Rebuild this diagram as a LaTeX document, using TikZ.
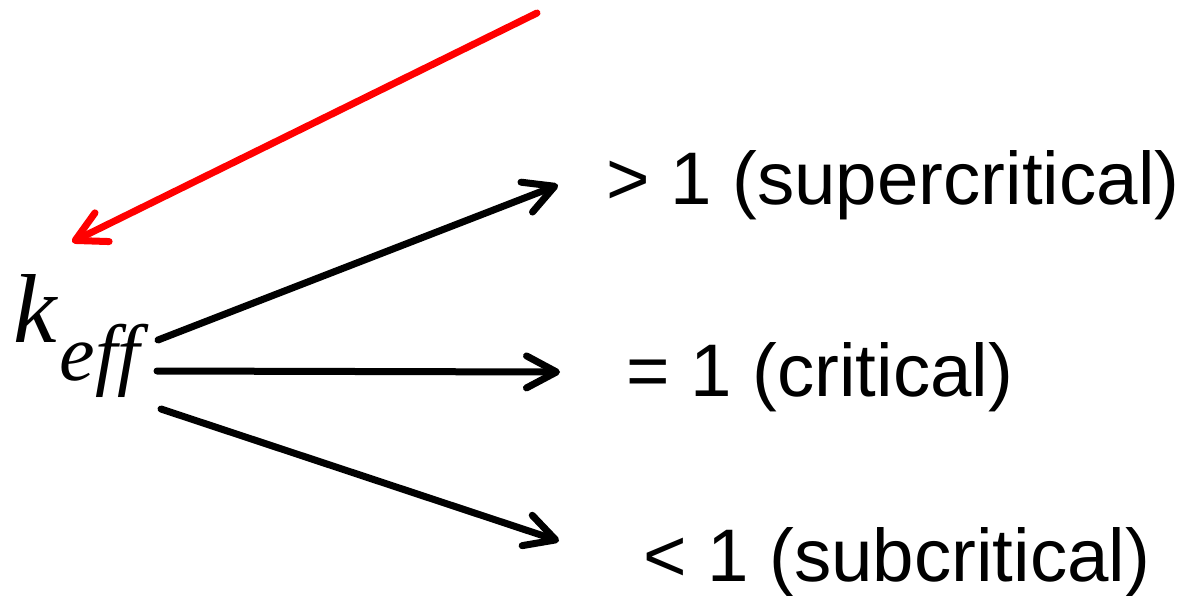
\documentclass[tikz,border=0pt]{standalone}
\usepackage{fontspec}
\setmainfont{Liberation Sans}
\newfontfamily\timesfont{Liberation Serif}
\usetikzlibrary{arrows.meta}
\tikzset{
  label/.style={anchor=base west, inner sep=0pt, font=\fontsize{74.5}{74.5}\selectfont},
  barb/.style={-{Straight Barb[length=30pt, width=32pt, line cap=round, line join=round]}, line cap=round},
  outarrow/.style={barb, line width=7pt, black},
  inarrow/.style={barb, line width=7pt, red},
}
\begin{document}
\begin{tikzpicture}[x=1pt, y=-1pt]
  \useasboundingbox (0,0) rectangle (1185,595);
  % quantity
  \node[anchor=base west, inner sep=0pt] (k) at (13,342)
    {\timesfont\itshape\fontsize{98}{98}\selectfont k\hspace{3pt}\raisebox{-38pt}{\fontsize{80}{80}\selectfont eff}};
  % regimes
  \node[label] (sup) at (606,204) {> 1 (supercritical)};
  \node[label] (crit) at (626,396) {= 1 (critical)};
  \node[label] (sub) at (643,581) {< 1 (subcritical)};
  % arrow end points
  \coordinate (src) at (537,13);
  \coordinate (kin) at (72,242);
  \coordinate (o1) at (158,340);
  \coordinate (o2) at (157,371);
  \coordinate (o3) at (161,409);
  \coordinate (t1) at (558,185);
  \coordinate (t2) at (560,372);
  \coordinate (t3) at (559,541);
  \draw[inarrow] (src) -- (kin);
  \draw[outarrow] (o1) -- (t1);
  \draw[outarrow] (o2) -- (t2);
  \draw[outarrow] (o3) -- (t3);
\end{tikzpicture}
\end{document}
